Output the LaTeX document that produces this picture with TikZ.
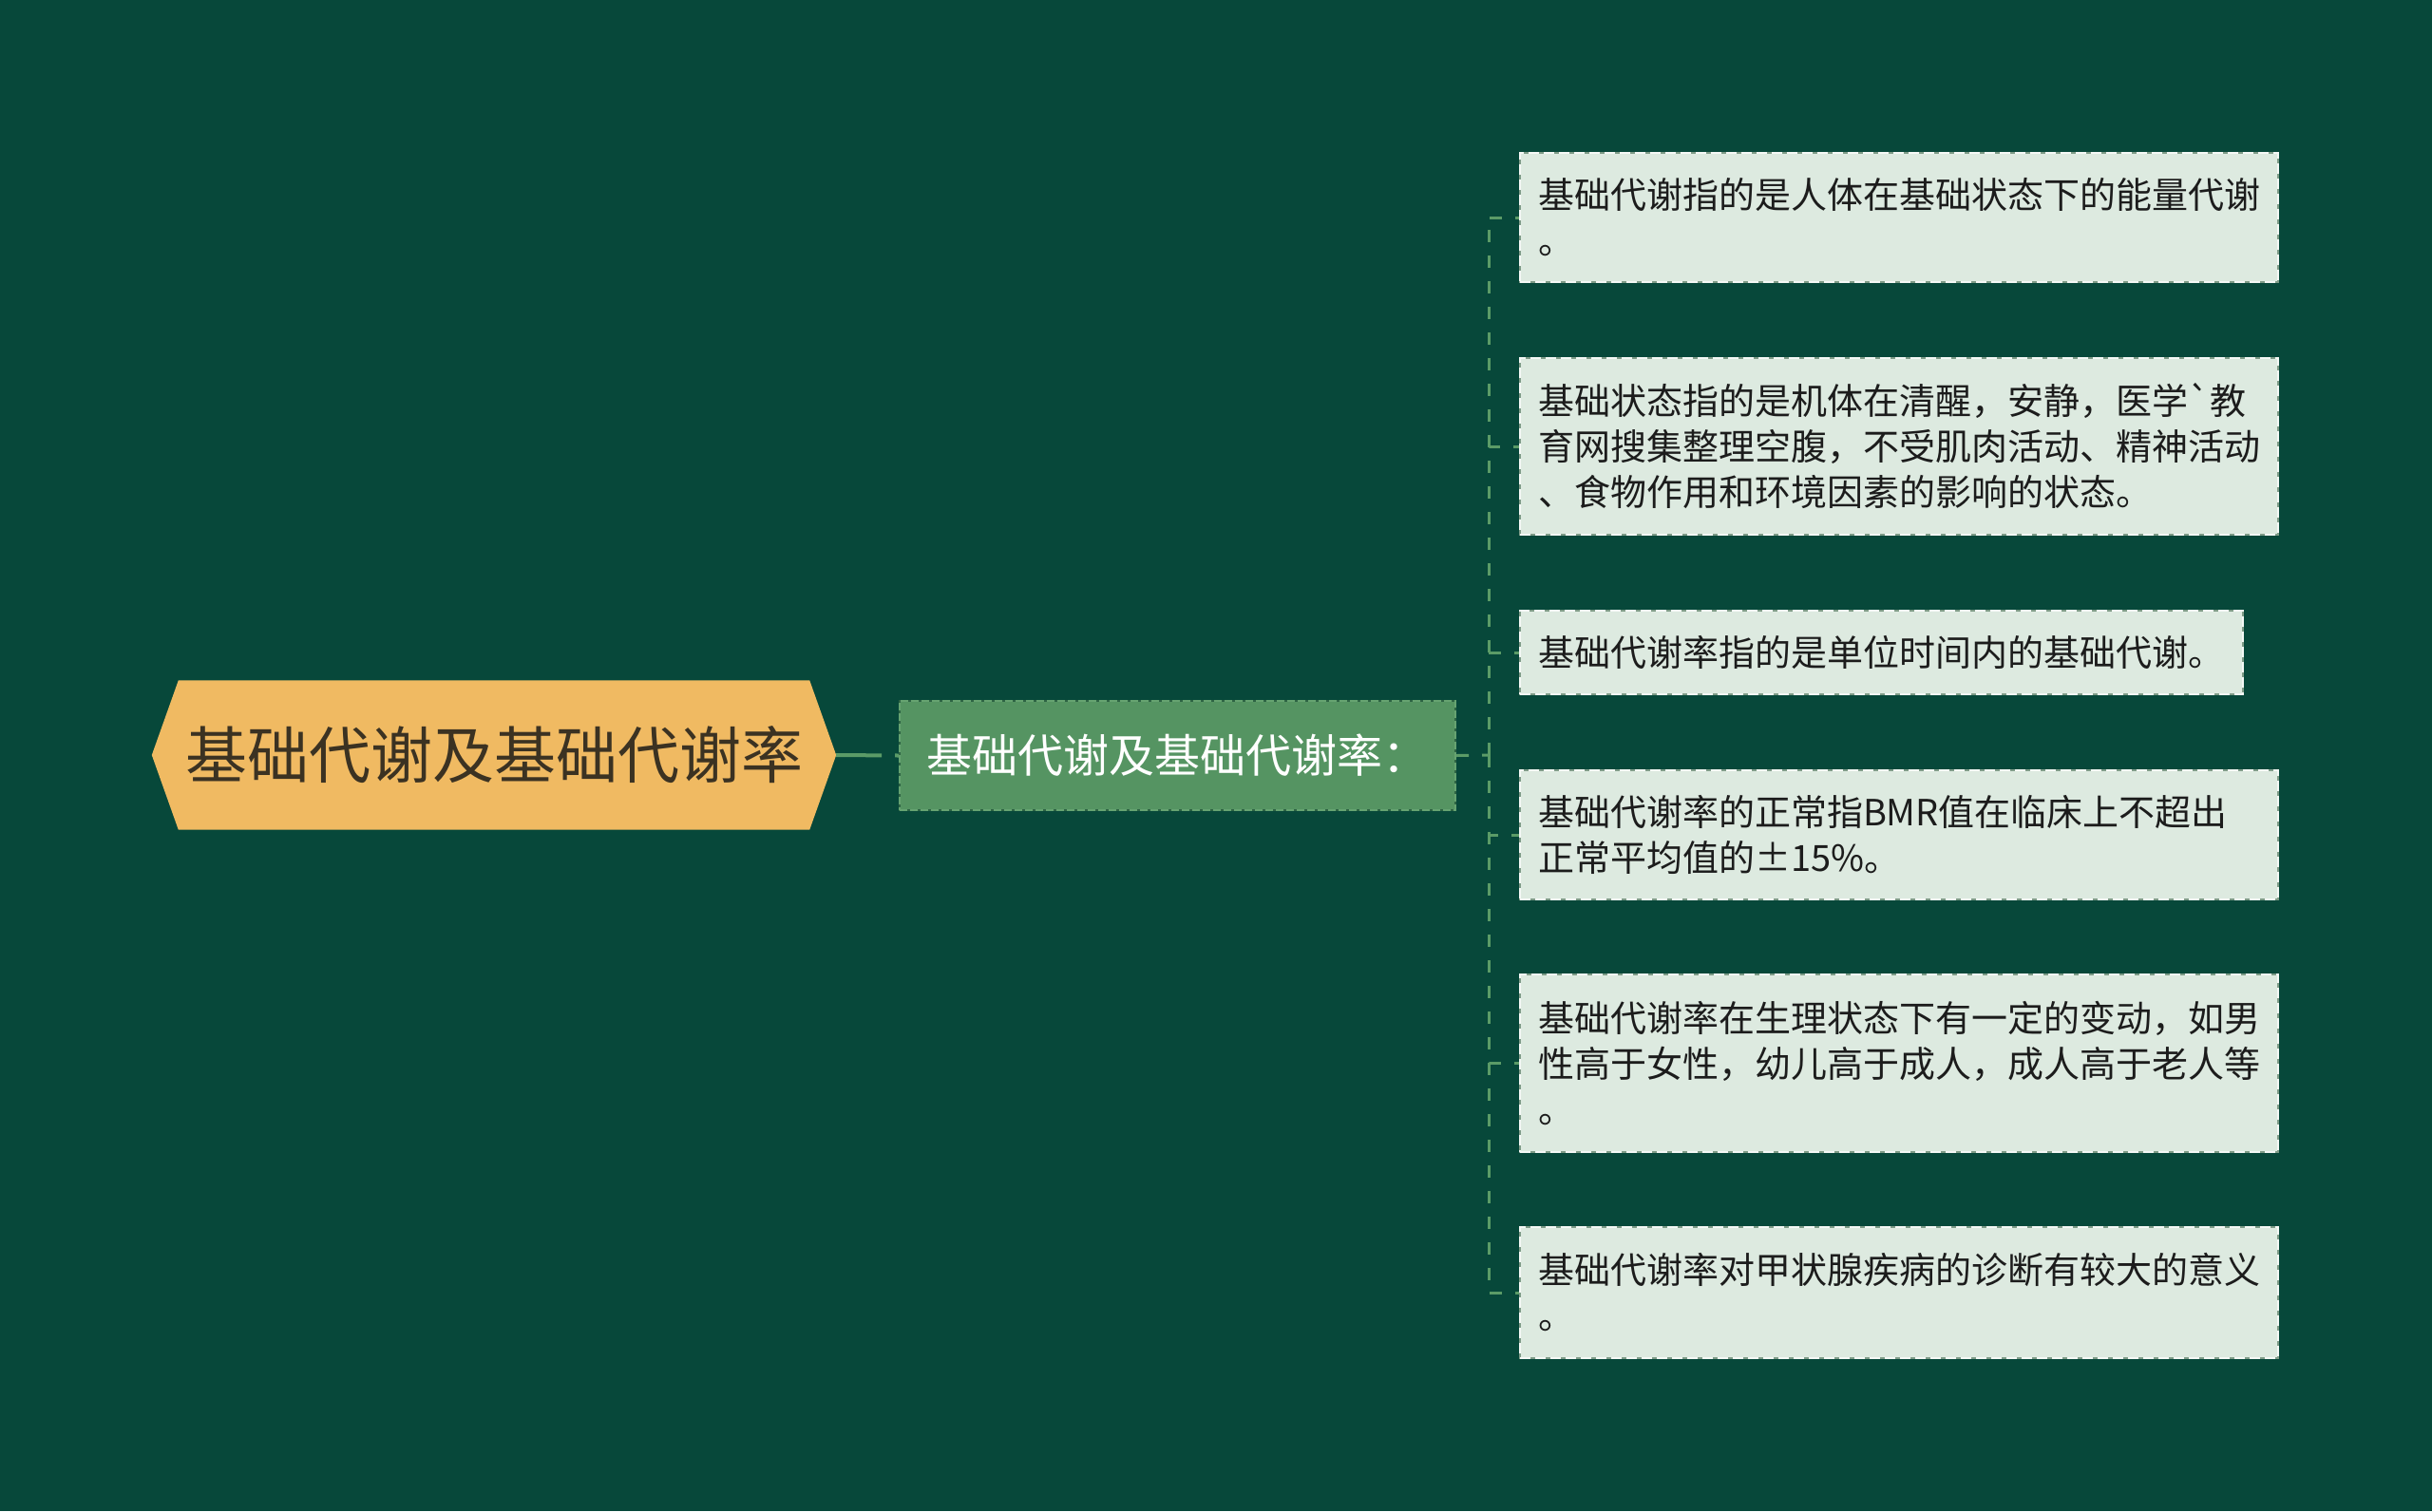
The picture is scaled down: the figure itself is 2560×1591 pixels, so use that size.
\documentclass[tikz,border=0pt]{standalone}
\usepackage{fontspec}
\newfontfamily\cjk[Ligatures=TeXOff]{Noto Sans CJK SC}
\usetikzlibrary{backgrounds,calc}
\definecolor{bgc}{HTML}{07483A}
\definecolor{rootfill}{HTML}{F0BA62}
\definecolor{roottext}{HTML}{3B3222}
\definecolor{midfill}{HTML}{559462}
\definecolor{midedge}{HTML}{2E6444}
\definecolor{middash}{HTML}{66A371}
\definecolor{leaffill}{HTML}{DDEAE0}
\definecolor{leafedge}{HTML}{7F9C88}
\definecolor{leafdash}{HTML}{F4F8F5}
\definecolor{leaftext}{HTML}{1C1C1C}
\definecolor{linkc}{HTML}{5B9B67}
\tikzset{
  rootnode/.style={inner sep=0pt, minimum width=720pt, minimum height=157pt,
    font=\cjk\fontsize{65}{78}\selectfont, text=roottext},
  midnode/.style={fill=midfill, draw=midedge, line width=2pt,
    postaction={draw=middash, line width=2pt, dash pattern=on 8pt off 3pt},
    inner sep=0pt, minimum width=585pt, minimum height=115pt,
    font=\cjk\fontsize{48}{56}\selectfont, text=white},
  leafnode/.style={fill=leaffill, draw=leafedge, line width=2pt,
    postaction={draw=leafdash, line width=2pt, dash pattern=on 11pt off 5pt},
    inner xsep=19pt, inner ysep=0pt, align=left,
    font=\cjk\fontsize{38}{48}\selectfont, text=leaftext},
  rootlink/.style={draw=linkc, line width=4pt, dash pattern=on 48pt off 14pt},
  trunk/.style={draw=linkc, line width=3pt, dash pattern=on 13pt off 14pt},
}
\begin{document}
\begin{tikzpicture}[x=1pt,y=-1pt]
\begin{scope}[on background layer]
  \fill[bgc] (0,0) rectangle (2560,1591);
\end{scope}
\useasboundingbox (0,0) rectangle (2560,1591);

\node[rootnode] (root) at (520,795) {基础代谢及基础代谢率};
\begin{scope}[on background layer]
  \fill[rootfill] (root.west) -- ($(root.north west)+(28,0)$) -- ($(root.north east)+(-28,0)$)
    -- (root.east) -- ($(root.south east)+(-28,0)$) -- ($(root.south west)+(28,0)$) -- cycle;
\end{scope}

\node[midnode] (mid) at (1239.5,795.5) {基础代谢及基础代谢率：};

\node[leafnode, text width=760pt, minimum width=798pt, minimum height=136pt] (l1) at (1999,229)
  {基础代谢指的是人体在基础状态下的能量代谢\\。};
\node[leafnode, text width=760pt, minimum width=798pt, minimum height=186pt] (l2) at (1999,470)
  {基础状态指的是机体在清醒，安静，医学`教\\育网搜集整理空腹，不受肌肉活动、精神活动\\、食物作用和环境因素的影响的状态。};
\node[leafnode, text width=723pt, minimum width=761pt, minimum height=88pt] (l3) at (1980.5,687)
  {基础代谢率指的是单位时间内的基础代谢。};
\node[leafnode, text width=760pt, minimum width=798pt, minimum height=136pt] (l4) at (1999,879)
  {基础代谢率的正常指BMR值在临床上不超出\\正常平均值的±15\%。};
\node[leafnode, text width=760pt, minimum width=798pt, minimum height=187pt] (l5) at (1999,1119.5)
  {基础代谢率在生理状态下有一定的变动，如男\\性高于女性，幼儿高于成人，成人高于老人等\\。};
\node[leafnode, text width=760pt, minimum width=798pt, minimum height=138pt] (l6) at (1999,1361)
  {基础代谢率对甲状腺疾病的诊断有较大的意义\\。};

\coordinate (tr) at (1567,795);
\draw[rootlink] (root.east) -- (mid.west);
\draw[trunk] (mid.east) -- (tr);
\foreach \n in {l1,l2,l3,l4,l5,l6}{
  \draw[trunk] (tr) |- (\n.west);
}
\end{tikzpicture}
\end{document}
